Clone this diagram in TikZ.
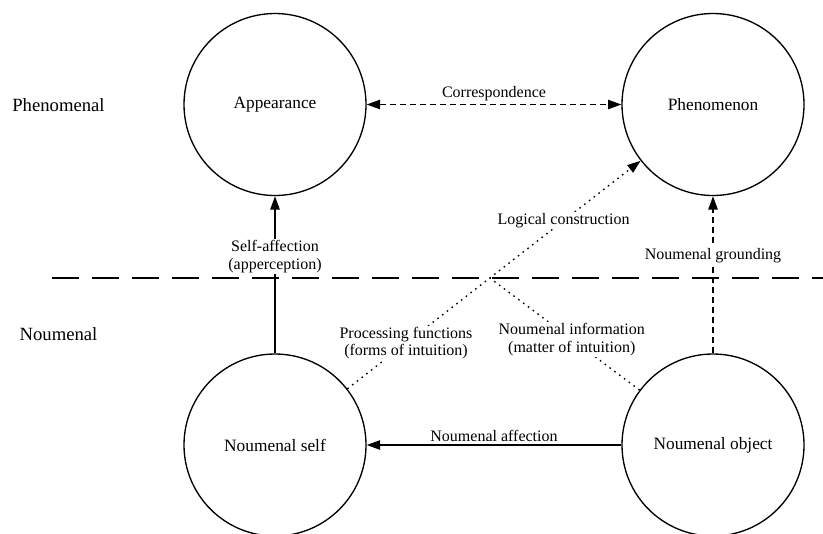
\documentclass[tikz,border=0pt]{standalone}
\usepackage{fontspec}
\setmainfont{Liberation Serif}
\usetikzlibrary{arrows.meta}
\begin{document}
\begin{tikzpicture}[x=0.75pt,y=-0.75pt,
  line width=1pt,
  realm/.style={circle,draw,minimum size=136.5pt,inner sep=0pt,font=\fontsize{13}{15.6}\selectfont},
  side/.style={font=\fontsize{14}{16.8}\selectfont},
  lbl/.style={font=\fontsize{12}{13.2}\selectfont,align=center,inner sep=1pt},
  wlbl/.style={lbl,fill=white},
  tip/.style={-{Triangle[length=10pt,width=7pt]}},
  dashedline/.style={dash pattern=on 4.5pt off 3pt},
  dottedline/.style={dash pattern=on 1.2pt off 3.3pt},
  separator/.style={dash pattern=on 20pt off 10pt}]
\useasboundingbox (0,0) rectangle (823,533);
\clip (0,0) rectangle (823,533);

\node[realm] (app) at (275,104.5) {Appearance};
\node[realm] (phen) at (713,104.5) {Phenomenon};
\node[realm] (nself) at (275,445) {Noumenal self};
\node[realm] (nobj) at (713,445) {Noumenal object};

\node[side] (phlbl) at (58.5,105) {Phenomenal};
\node[side] (nolbl) at (58.5,334) {Noumenal};

\coordinate (dl) at (52,278);
\coordinate (dr) at (823,278);
\draw[separator] (dl) -- (dr);

\coordinate (X) at (intersection of nself--phen and dl--dr);

\draw[dashedline,{Triangle[length=10pt,width=7pt]}-{Triangle[length=10pt,width=7pt]}] (app) -- node[lbl,above=1pt] {Correspondence} (phen);

\draw[tip] (nself) -- node[wlbl,pos=0.616] {Self-affection\\(apperception)} (app);

\draw[tip,dashedline] (nobj) -- node[wlbl,pos=0.62] {Noumenal grounding} (phen);

\draw[tip] (nobj) -- node[lbl,above=1pt] {Noumenal affection} (nself);

\draw[tip,dottedline] (nself) -- node[wlbl,pos=0.2] {Processing functions\\(forms of intuition)}
  node[wlbl,pos=0.737] {Logical construction} (phen);

\draw[dottedline] (nobj) -- node[wlbl,pos=0.453] {Noumenal information\\(matter of intuition)} (X);
\end{tikzpicture}
\end{document}
